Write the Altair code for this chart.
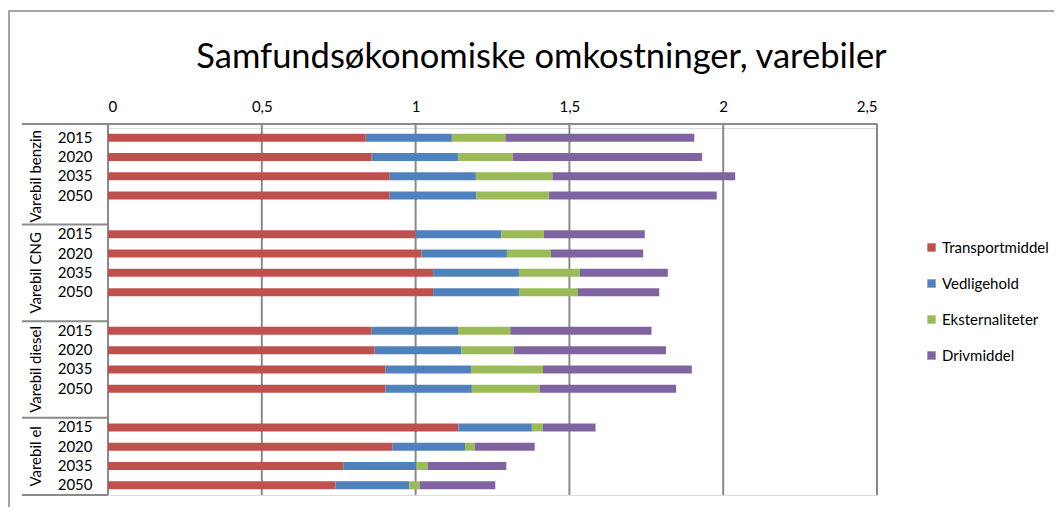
import altair as alt
import pandas as pd

groups = ["Varebil benzin", "Varebil CNG", "Varebil diesel", "Varebil el"]
keys = ["benzin", "cng", "diesel", "el"]
years = ["2015", "2020", "2035", "2050"]
components = ["Transportmiddel", "Vedligehold", "Eksternaliteter", "Drivmiddel"]
colors = ["#C0504D", "#4F81BD", "#9BBB59", "#8064A2"]

# values per group, per year (2015, 2020, 2035, 2050)
transportmiddel = {
    "benzin": [0.838, 0.857, 0.916, 0.916],
    "cng":    [1.000, 1.019, 1.057, 1.057],
    "diesel": [0.857, 0.867, 0.902, 0.902],
    "el":     [1.139, 0.924, 0.765, 0.739],
}
vedligehold = {
    "benzin": [0.280, 0.282, 0.280, 0.281],
    "cng":    [0.278, 0.278, 0.279, 0.279],
    "diesel": [0.281, 0.282, 0.278, 0.281],
    "el":     [0.239, 0.237, 0.238, 0.241],
}
eksternaliteter = {
    "benzin": [0.174, 0.177, 0.249, 0.237],
    "cng":    [0.139, 0.143, 0.198, 0.192],
    "diesel": [0.170, 0.170, 0.234, 0.220],
    "el":     [0.035, 0.031, 0.037, 0.033],
}
drivmiddel = {
    "benzin": [0.614, 0.615, 0.594, 0.545],
    "cng":    [0.328, 0.300, 0.286, 0.264],
    "diesel": [0.459, 0.495, 0.484, 0.444],
    "el":     [0.172, 0.195, 0.255, 0.246],
}
x_ticks = [0, 0.5, 1, 1.5, 2, 2.5]

series = [transportmiddel, vedligehold, eksternaliteter, drivmiddel]

rows = []
for k in keys:
    for yi, yr in enumerate(years):
        for ci, comp in enumerate(components):
            rows.append({"slot": f"{k}|{yr}", "component": comp, "order": ci,
                         "value": series[ci][k][yi]})
df = pd.DataFrame(rows)

slot_domain = []
for k in keys:
    slot_domain += [f"{k}|{yr}" for yr in years]
    if k != "el":
        slot_domain.append(f"{k}|")

H = 367
W = 769
FONT = "Lato"
FS = 15
GRID = "#8a8a8a"

yscale = alt.Scale(domain=slot_domain, paddingInner=0, paddingOuter=0)
xscale = alt.Scale(domain=[0, 2.5], nice=False)
yaxis = alt.Axis(labelExpr="split(datum.value, '|')[1]", ticks=False, domain=False,
                 grid=False, labelFontSize=FS, labelFont=FONT, labelColor="#000000",
                 labelPadding=16, labelOverlap=False, title=None)

grid_df = pd.DataFrame({"tick": x_ticks})
grid = alt.Chart(grid_df).mark_rule(color=GRID, strokeWidth=2).encode(
    x=alt.X("tick:Q", scale=xscale, axis=alt.Axis(
        orient="top", values=x_ticks, grid=False, ticks=False, domain=False,
        labelExpr="replace(toString(datum.value), '.', ',')",
        labelFontSize=FS, labelFont=FONT, labelColor="#000000", labelPadding=14,
        title=None)),
    y=alt.value(-4), y2=alt.value(H),
)

bars = alt.Chart(df).mark_bar(size=8).encode(
    x=alt.X("value:Q", stack="zero", scale=xscale, title=None),
    y=alt.Y("slot:N", scale=yscale, sort=slot_domain, axis=yaxis),
    color=alt.Color("component:N", scale=alt.Scale(domain=components, range=colors),
                    legend=alt.Legend(title=None, orient="none", legendX=816, legendY=112,
                                      symbolType="square", symbolSize=70, symbolStrokeWidth=0,
                                      labelFontSize=FS, labelFont=FONT, labelColor="#000000",
                                      rowPadding=20, labelOffset=3)),
    order=alt.Order("order:Q"),
)

sep_df = pd.DataFrame({"slot": ["cng|2015", "diesel|2015", "el|2015"]})
seps = alt.Chart(sep_df).mark_rule(color=GRID, strokeWidth=2).encode(
    y=alt.Y("slot:N", scale=yscale, sort=slot_domain, bandPosition=0, axis=yaxis),
    x=alt.value(-86), x2=alt.value(0),
)

one = pd.DataFrame({"a": [0]})
top_line = alt.Chart(one).mark_rule(color=GRID, strokeWidth=2).encode(
    x=alt.value(-86), x2=alt.value(W), y=alt.value(-4))
bottom_line = alt.Chart(one).mark_rule(color=GRID, strokeWidth=2).encode(
    x=alt.value(-86), x2=alt.value(0), y=alt.value(H))
border = alt.Chart(one).mark_rect(filled=False, stroke="#868686", strokeWidth=1.5).encode(
    x=alt.value(-99), x2=alt.value(970), y=alt.value(-117), y2=alt.value(420))

glab_df = pd.DataFrame({"slot": ["benzin|2035", "cng|2035", "diesel|2035"],
                        "label": groups[:3]})
glab = alt.Chart(glab_df).mark_text(angle=270, fontSize=FS, font=FONT, color="#000000",
                                    align="center", baseline="middle").encode(
    y=alt.Y("slot:N", scale=yscale, sort=slot_domain, axis=yaxis),
    x=alt.value(-72), text="label:N")
glab_el_df = pd.DataFrame({"slot": ["el|2035"], "label": [groups[3]]})
glab_el = alt.Chart(glab_el_df).mark_text(angle=270, fontSize=FS, font=FONT, color="#000000",
                                          align="center", baseline="middle").encode(
    y=alt.Y("slot:N", scale=yscale, sort=slot_domain, bandPosition=0, axis=yaxis),
    x=alt.value(-72), text="label:N")

chart = alt.layer(border, grid, bars, seps, top_line, bottom_line, glab, glab_el).properties(
    width=W, height=H,
    title=alt.TitleParams("Samfundsøkonomiske omkostninger, varebiler", font=FONT,
                          fontSize=34.5, fontWeight="normal", color="#000000",
                          anchor="middle", frame="group", dx=49, offset=-92,
                          baseline="alphabetic"),
    autosize=alt.AutoSizeParams(type="none"),
    padding={"left": 100, "top": 120, "right": 177, "bottom": 12},
).configure_view(stroke=None).configure(font=FONT)

chart.save("out.html", embed_options={"renderer": "svg", "actions": False})
